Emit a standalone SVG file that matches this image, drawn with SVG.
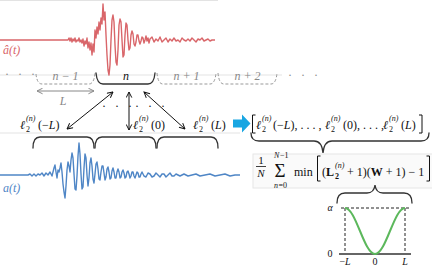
<svg xmlns="http://www.w3.org/2000/svg" width="432" height="266" viewBox="0 0 432 266">
<defs>
<style>
.m{font-family:"Liberation Serif","DejaVu Serif",serif;font-style:italic;font-size:12px;fill:#111}
.r{font-family:"Liberation Serif","DejaVu Serif",serif;font-style:normal;font-size:12px;fill:#111}
.s{font-size:8px}
.g{fill:#888}
.ax{stroke:#e3e3e3;stroke-width:1;fill:none}
.br{fill:none;stroke:#333;stroke-width:1.3;stroke-linecap:round}
.dbr{fill:none;stroke:#999;stroke-width:1;stroke-dasharray:3 2}
.arr{stroke:#111;stroke-width:1;fill:none;marker-start:url(#ah);marker-end:url(#ah)}
.garr{stroke:#888;stroke-width:1;fill:none;marker-start:url(#gh);marker-end:url(#gh)}
</style>
<marker id="ah" viewBox="0 0 10 10" refX="9" refY="5" markerWidth="7" markerHeight="7" orient="auto-start-reverse" markerUnits="userSpaceOnUse"><path d="M1,1 L9,5 L1,9" fill="none" stroke="#111" stroke-width="1.4"/></marker>
<marker id="gh" viewBox="0 0 10 10" refX="9" refY="5" markerWidth="7" markerHeight="7" orient="auto-start-reverse" markerUnits="userSpaceOnUse"><path d="M1,1 L9,5 L1,9" fill="none" stroke="#888" stroke-width="1.4"/></marker>
</defs>
<rect width="432" height="266" fill="#fff"/>

<!-- faint axes -->
<line class="ax" x1="0" y1="0.5" x2="218" y2="0.5"/>
<line class="ax" x1="0" y1="75" x2="282" y2="75"/>
<line class="ax" x1="0" y1="133" x2="240" y2="133"/>

<g id="signal-ahat">
<polyline fill="none" stroke="#d9666a" stroke-width="1.4" stroke-linejoin="round" points="0,40 66,40 68,40 69,38 70,41 71,38 72,42 73,39 74,41 75,38 76,42 77,40 78,41 79,38 80,42 81,40 82,43 83,39 84,46 85,41 86,44 87,38 88,48 89,42 90,50 91,43 92,55 93,44 94,52 95,30 96,38 97,27 98,34 99,22 100,30 101,18 102,24 103,4 104,20 105,12 106,35 107,55 108,70 109,75 110,65 111,40 112,20 113,15 114,22 115,45 116,62 117,65 118,50 119,25 120,19 121,22 122,40 123,57 124,55 125,35 126,23 127,25 128,40 129,50 130,48 131,35 132,31 133,34 134,44 135,46 136,42 137,35 138,35 139,41 140,44 141,41 142,37 143,38 144,43 145,40 146,36 147,41 148,38 149,43 150,39 152,37 154,42 156,39 158,41 160,37 162,42 164,40 166,38 168,42 170,39 172,41 174,38 176,41 178,40 180,42 182,38 184,40 186,41 188,39 190,41 192,38 194,40 196,42 198,39 200,40 202,38 204,41 206,40 208,39 210,41 212,40 215,40"/>
<text class="m" x="3" y="54" style="fill:#d9666a;font-size:12px">â(t)</text>
</g>

<g id="segments">
<text class="r" x="5" y="78" style="fill:#888;letter-spacing:3px">· · ·</text>
<g id="seg-nm1">
<path class="dbr" d="M36,74 Q37,84 42,84 L89,84 Q94,84 95,73"/>
<text class="m g" x="65.5" y="80" text-anchor="middle">n − 1</text>
</g>
<g id="seg-n">
<path class="br" d="M96,73 Q97,84 103,84 L148,84 Q154,84 155,73"/>
<text class="m" x="126" y="80" text-anchor="middle">n</text>
</g>
<g id="seg-np1">
<path class="dbr" d="M157,73 Q158,84 163,84 L210,84 Q215,84 216,73"/>
<text class="m g" x="186.5" y="80" text-anchor="middle">n + 1</text>
</g>
<g id="seg-np2">
<path class="dbr" d="M218,73 Q219,84 224,84 L271,84 Q276,84 277,73"/>
<text class="m g" x="247.5" y="80" text-anchor="middle">n + 2</text>
</g>
<text class="r" x="288" y="79" style="fill:#888;letter-spacing:3px">· · ·</text>
<text class="m g" x="63" y="105" text-anchor="middle">L</text>
</g>

<g id="connectors">
<line class="garr" x1="37" y1="91" x2="94" y2="91"/>
<line class="arr" x1="113" y1="92" x2="67" y2="129"/>
<line class="arr" x1="129" y1="92" x2="129" y2="130"/>
<line class="arr" x1="144" y1="92" x2="185" y2="129"/>
<text class="r" x="102" y="110" style="letter-spacing:3px">· · ·</text>
<text class="r" x="135" y="110" style="letter-spacing:3px">· · ·</text>
<path d="M233,119.5 H242 V114.5 L250.5,123.5 L242,132.5 V127.5 H233 Z" fill="#19a6e2"/>
</g>

<g id="label-mL">
<text class="m"><tspan x="20" y="129">ℓ</tspan><tspan class="s" x="26" y="132" style="font-style:normal">2</tspan><tspan class="s" x="26" y="121">(n)</tspan><tspan class="r" x="38" y="129">(−</tspan><tspan>L</tspan><tspan class="r">)</tspan></text>
</g>
<g id="label-0">
<text class="m"><tspan x="133" y="129">ℓ</tspan><tspan class="s" x="139" y="132" style="font-style:normal">2</tspan><tspan class="s" x="139" y="121">(n)</tspan><tspan class="r" x="151" y="129">(0)</tspan></text>
</g>
<g id="label-L">
<text class="m"><tspan x="193" y="129">ℓ</tspan><tspan class="s" x="199" y="132" style="font-style:normal">2</tspan><tspan class="s" x="199" y="121">(n)</tspan><tspan class="r" x="211" y="129">(</tspan><tspan>L</tspan><tspan class="r">)</tspan></text>
</g>

<g id="vector">
<path d="M255.5,115 H252.5 V133 H255.5" fill="none" stroke="#111" stroke-width="1"/>
<path d="M419,115 H422 V133 H419" fill="none" stroke="#111" stroke-width="1"/>
<text class="m"><tspan x="256" y="129">ℓ</tspan><tspan class="s" x="262" y="132" style="font-style:normal">2</tspan><tspan class="s" x="262" y="121">(n)</tspan><tspan class="r" x="273" y="129">(−</tspan><tspan>L</tspan><tspan class="r">), . . . ,</tspan></text>
<text class="m"><tspan x="325" y="129">ℓ</tspan><tspan class="s" x="331" y="132" style="font-style:normal">2</tspan><tspan class="s" x="331" y="121">(n)</tspan><tspan class="r" x="343" y="129">(0), . . . ,</tspan></text>
<text class="m"><tspan x="383" y="129">ℓ</tspan><tspan class="s" x="389" y="132" style="font-style:normal">2</tspan><tspan class="s" x="389" y="121">(n)</tspan><tspan class="r" x="401" y="129">(</tspan><tspan>L</tspan><tspan class="r">)</tspan></text>
<path class="br" d="M251,133 Q251,141 259,141 L314,141 Q322,141 323,153 Q324,141 332,141 L421,141 Q429,141 429,133"/>
</g>

<g id="formula">
<rect x="253" y="154" width="180" height="34" fill="#fafafa" stroke="#e6e6e6" stroke-width="1"/>
<text class="r" x="261" y="164" text-anchor="middle" style="font-size:11px">1</text>
<line x1="256" y1="166.5" x2="266" y2="166.5" stroke="#111" stroke-width="0.8"/>
<text class="m" x="261" y="177" text-anchor="middle" style="font-size:11px">N</text>
<text class="m s" x="274" y="157.5">N</text>
<text class="r s" x="280" y="157.5">−1</text>
<text class="r" x="280" y="177" text-anchor="middle" style="font-size:19px">Σ</text>
<text class="m s" x="274" y="188">n</text>
<text class="r s" x="278.5" y="188">=0</text>
<text class="r" x="294" y="176">min</text>
<path d="M320.5,156 H317.5 V181 H320.5" fill="none" stroke="#111" stroke-width="1"/>
<text class="r"><tspan x="322" y="176">(</tspan><tspan style="font-weight:bold">L</tspan></text>
<text class="r s" x="335" y="179" style="font-weight:bold">2</text>
<text class="m s" x="335" y="168">(n)</text>
<text class="r" x="347" y="176">+ 1)(<tspan style="font-weight:bold">W</tspan> + 1) − 1</text>
<path d="M426.5,156 H429.5 V181 H426.5" fill="none" stroke="#111" stroke-width="1"/>
</g>

<g id="window-plot">
<path class="br" d="M337,203 Q337,193 345,193 L367,193 Q374,193 375,185 Q376,193 383,193 L404,193 Q412,193 412,203"/>
<line x1="341" y1="208" x2="411" y2="208" stroke="#222" stroke-width="1" stroke-dasharray="3 2"/>
<line x1="345" y1="208" x2="345" y2="254" stroke="#222" stroke-width="1" stroke-dasharray="3 2"/>
<line x1="405" y1="208" x2="405" y2="254" stroke="#222" stroke-width="1" stroke-dasharray="3 2"/>
<line x1="339" y1="254" x2="411" y2="254" stroke="#666" stroke-width="2"/>
<path d="M345,208 C356,208 364,254 375,254 C386,254 394,208 405,208" fill="none" stroke="#5cb85c" stroke-width="2"/>
<text class="m" x="330" y="211" text-anchor="middle" style="font-size:10px">α</text>
<text class="r" x="330" y="257" text-anchor="middle" style="font-size:10px">0</text>
<text class="r" x="345" y="265" text-anchor="middle" style="font-size:10px">−<tspan class="m" style="font-size:10px">L</tspan></text>
<text class="r" x="375" y="265" text-anchor="middle" style="font-size:10px">0</text>
<text class="m" x="405" y="265" text-anchor="middle" style="font-size:10px">L</text>
</g>

<g id="signal-a">
<g id="windows">
<path class="br" d="M33,148 Q33,137 40,137 L87,137 Q94,137 94,148"/>
<path class="br" d="M95,148 Q95,137 102,137 L149,137 Q156,137 156,148"/>
<path class="br" d="M157,148 Q157,137 164,137 L211,137 Q218,137 218,148"/>
</g>
<polyline fill="none" stroke="#4f86c6" stroke-width="1.4" stroke-linejoin="round" points="0,175 28,175 30,174 32,176 34,174 36,176 38,174 40,175 42,173 44,176 46,173 48,175 50,172 52,176 54,168 55,165 56,172 57,178 58,170 59,172 60,168 61,163 62,172 63,184 64,192 65,198 66,186 67,170 68,162 69,166 70,172 71,160 72,153 73,158 74,174 75,189 76,190 77,176 78,156 79,143 80,154 81,174 82,189 83,187 84,168 85,154 86,158 87,175 88,186 89,178 90,163 91,158 92,166 93,179 94,183 95,174 96,164 97,162 98,169 99,179 100,180 101,172 102,166 103,166 104,173 105,180 106,177 107,169 108,167 109,172 110,179 111,178 112,171 113,168 114,172 115,178 116,178 117,172 118,169 119,172 120,178 121,177 122,172 123,170 124,173 125,178 126,177 127,172 128,171 129,174 130,178 131,176 132,172 133,172 134,176 135,178 136,175 137,172 138,173 139,177 140,177 141,174 142,172 144,176 146,177 148,173 150,174 152,177 154,176 156,173 158,175 160,177 162,174 164,174 166,177 168,175 170,173 172,176 174,176 176,174 178,175 180,176 184,174 188,176 192,175 196,174 200,176 205,175 210,174 215,176 220,175 225,174 230,176 235,175 240,175"/>
<text class="m" x="3" y="192" style="fill:#4f86c6;font-size:12px">a(t)</text>
</g>
</svg>
